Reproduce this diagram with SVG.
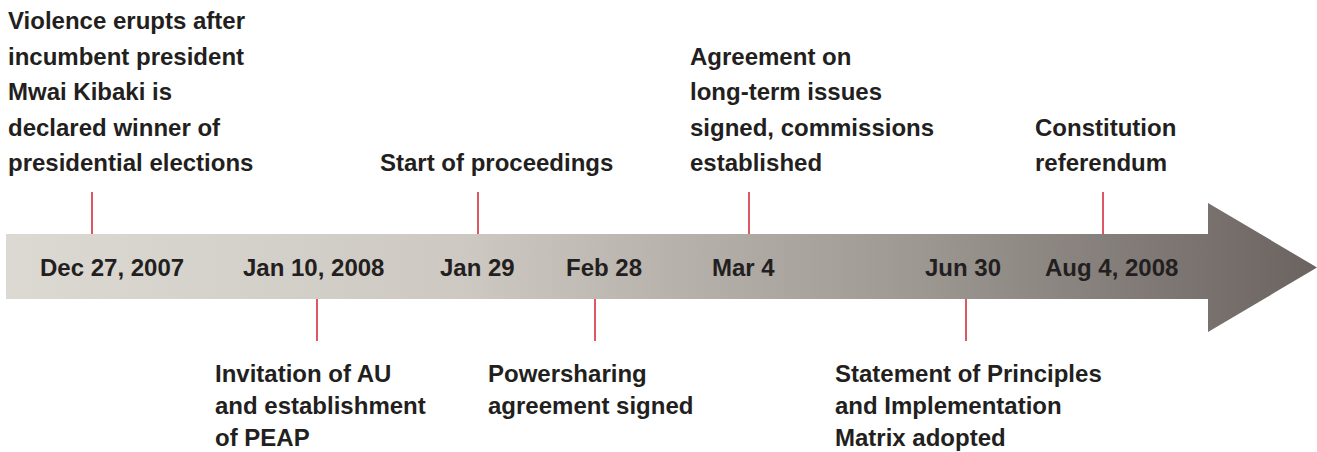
<svg xmlns="http://www.w3.org/2000/svg" width="1317" height="452" viewBox="0 0 1317 452">
<style>
text{font-family:"Liberation Sans",Arial,sans-serif;font-weight:bold;font-size:24px;fill:#231f20}
.tick{stroke:#d0202e;stroke-width:1.5}
</style>
<defs>
<linearGradient id="g" x1="6" y1="0" x2="1317" y2="0" gradientUnits="userSpaceOnUse">
<stop offset="0" stop-color="#dcd9d3"/>
<stop offset="0.35" stop-color="#cdc8c2"/>
<stop offset="0.7" stop-color="#9d9792"/>
<stop offset="1" stop-color="#6a6360"/>
</linearGradient>
</defs>
<g id="timeline">
<path d="M6 234 H1208 V203 L1317 267.5 L1208 332 V299 H6 Z" fill="url(#g)"/>
</g>
<g id="connectors">
<line class="tick" x1="92" y1="192" x2="92" y2="234"/>
<line class="tick" x1="317" y1="299" x2="317" y2="341"/>
<line class="tick" x1="478" y1="192" x2="478" y2="234"/>
<line class="tick" x1="595" y1="299" x2="595" y2="341"/>
<line class="tick" x1="749" y1="192" x2="749" y2="234"/>
<line class="tick" x1="966" y1="299" x2="966" y2="341"/>
<line class="tick" x1="1103" y1="192" x2="1103" y2="234"/>
</g>
<g id="dates">
<text x="40" y="276">Dec 27, 2007</text>
<text x="243" y="276">Jan 10, 2008</text>
<text x="440" y="276">Jan 29</text>
<text x="566" y="276">Feb 28</text>
<text x="712" y="276">Mar 4</text>
<text x="925" y="276">Jun 30</text>
<text x="1045" y="276">Aug 4, 2008</text>
</g>
<g id="event-dec27">
<text x="8" y="29">Violence erupts after</text>
<text x="8" y="64.5">incumbent president</text>
<text x="8" y="100">Mwai Kibaki is</text>
<text x="8" y="135.5">declared winner of</text>
<text x="8" y="171">presidential elections</text>
</g>
<g id="event-jan10">
<text x="215" y="382">Invitation of AU</text>
<text x="215" y="414">and establishment</text>
<text x="215" y="446">of PEAP</text>
</g>
<g id="event-jan29">
<text x="380" y="171">Start of proceedings</text>
</g>
<g id="event-feb28">
<text x="488" y="382">Powersharing</text>
<text x="488" y="414">agreement signed</text>
</g>
<g id="event-mar4">
<text x="690" y="64.5">Agreement on</text>
<text x="690" y="100">long-term issues</text>
<text x="690" y="135.5">signed, commissions</text>
<text x="690" y="171">established</text>
</g>
<g id="event-jun30">
<text x="835" y="382">Statement of Principles</text>
<text x="835" y="414">and Implementation</text>
<text x="835" y="446">Matrix adopted</text>
</g>
<g id="event-aug4">
<text x="1035" y="135.5">Constitution</text>
<text x="1035" y="171">referendum</text>
</g>
</svg>
